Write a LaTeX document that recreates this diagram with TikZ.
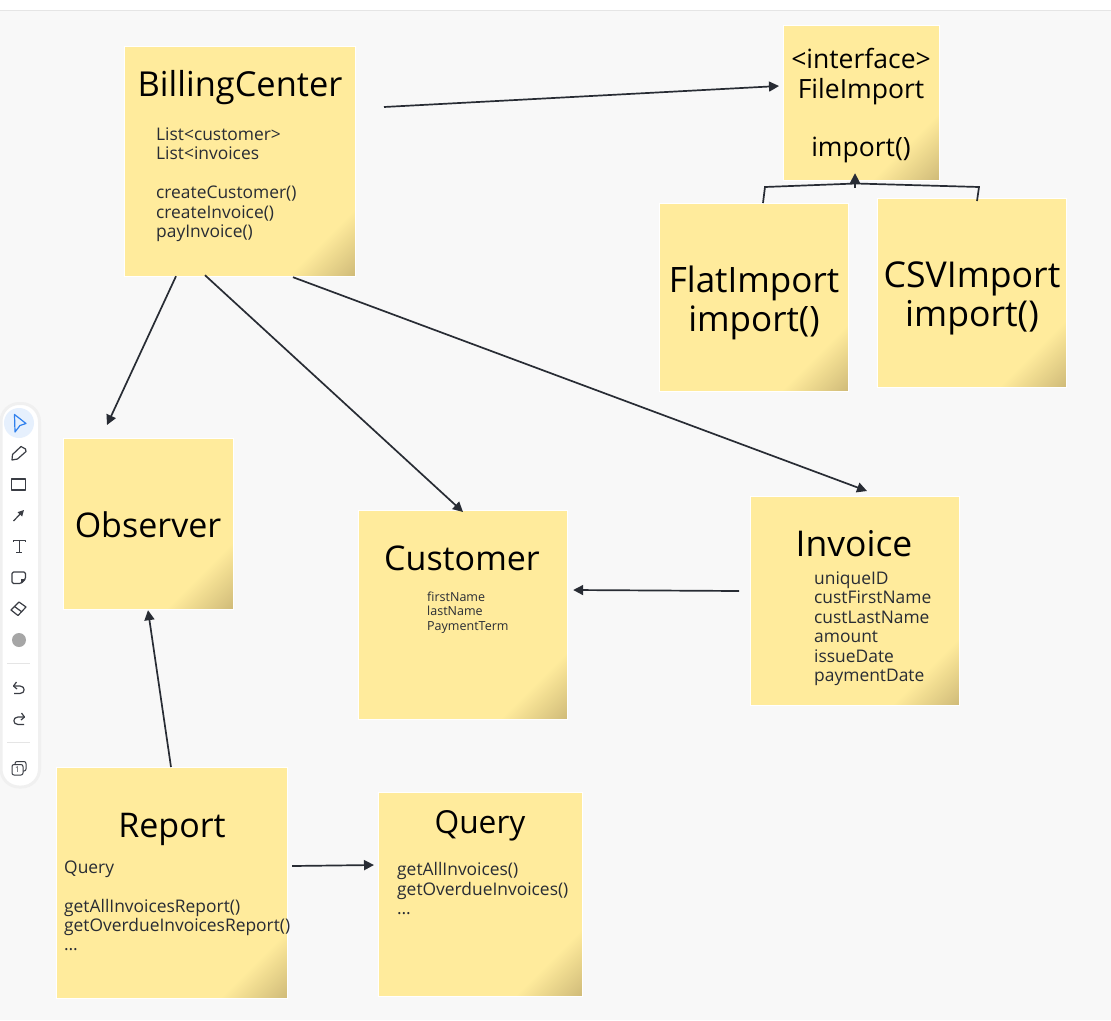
\documentclass[tikz,border=0pt]{standalone}
\usepackage{fontspec}
\setmainfont{Open Sans}
\usetikzlibrary{arrows.meta}
\definecolor{paper}{HTML}{F8F8F8}
\definecolor{note}{HTML}{FFEB9C}
\definecolor{notedark}{HTML}{CFBA78}
\definecolor{ink}{HTML}{282C34}
\definecolor{toolink}{HTML}{3A3D44}
\definecolor{toolblue}{HTML}{2F80ED}
\tikzset{
  x=1pt,y=-1pt,
  sticky/.style={draw=white,line width=1.2pt,fill=note,inner sep=0pt,anchor=north west,
    path picture={
      \foreach \i [evaluate=\i as \leg using 68*(1-\i/34), evaluate=\i as \mixp using 100*\i/34] in {0,...,33}{
        \fill[notedark!\mixp!note]
          ([xshift=-\leg pt]path picture bounding box.south east) --
          (path picture bounding box.south east) --
          ([yshift=\leg pt]path picture bounding box.south east) -- cycle;
      }
    }},
  title/.style={font=\fontsize{#1}{#1}\selectfont,text=black,inner sep=0pt,align=center},
  titleblock/.style={font=\fontsize{26.5}{29.2}\selectfont,text=black,inner sep=0pt,align=center,anchor=north},
  bigblock/.style={font=\fontsize{#1}{39}\selectfont,text=black,inner sep=0pt,align=center},
  body/.style={font=\fontsize{17.4}{19.4}\selectfont,text=ink,inner sep=0pt,align=left,anchor=north west},
  small/.style={font=\fontsize{12.5}{14.7}\selectfont,text=ink,inner sep=0pt,align=left,anchor=north west},
  conn/.style={draw=ink,line width=1.7pt},
  arr/.style={conn,-{Triangle[length=10pt,width=10pt]}},
  tool/.style={draw=toolink,line width=1.2pt,line join=round},
}
\begin{document}
\begin{tikzpicture}
\useasboundingbox (0,0) rectangle (1111,1020);
\fill[paper] (0,0) rectangle (1111,1020);
\fill[white] (0,0) rectangle (1111,10);
\draw[black!10,line width=1pt] (0,10.5) -- (1111,10.5);

% notes
\node[sticky,minimum width=231pt,minimum height=230pt] (bc) at (124,46) {};
\node[sticky,minimum width=156pt,minimum height=155pt] (fi) at (783,25) {};
\node[sticky,minimum width=189pt,minimum height=188pt] (flat) at (659,203) {};
\node[sticky,minimum width=189pt,minimum height=189pt] (csv) at (877,198) {};
\node[sticky,minimum width=170pt,minimum height=171pt] (obs) at (63,438) {};
\node[sticky,minimum width=209pt,minimum height=209pt] (cust) at (358,510) {};
\node[sticky,minimum width=209pt,minimum height=209pt] (inv) at (750,496) {};
\node[sticky,minimum width=231pt,minimum height=231pt] (rep) at (56,767) {};
\node[sticky,minimum width=204pt,minimum height=204pt] (qry) at (378,792) {};

% texts
\node[title=34.4] (bct) at (240,88) {BillingCenter};
\node[body] (bcb) at (156,127.5) {List<customer>\\List<invoices\\[19.4pt]createCustomer()\\createInvoice()\\payInvoice()};
\node[titleblock] (fit) at (861,48.5) {<interface>\\FileImport\\[29.2pt]import()};
\node[bigblock=35] (flatt) at (754,302.5) {FlatImport\\import()};
\node[bigblock=35.6] (csvt) at (972,298) {CSVImport\\import()};
\node[title=34] (obst) at (148,524.5) {Observer};
\node[title=34] (custt) at (462,558.5) {Customer};
\node[small] (custb) at (427,591.5) {firstName\\lastName\\PaymentTerm};
\node[title=35.5] (invt) at (854,544) {Invoice};
\node[body] (invb) at (814,571.5) {uniqueID\\custFirstName\\custLastName\\amount\\issueDate\\paymentDate};
\node[title=34] (rept) at (172,829) {Report};
\node[body] (repb) at (64,860.5) {Query\\[19.4pt]getAllInvoicesReport()\\getOverdueInvoicesReport()\\…};
\node[title=31.7] (qryt) at (480,825.5) {Query};
\node[body] (qryb) at (397,862.5) {getAllInvoices()\\getOverdueInvoices()\\…};

% connectors
\draw[arr] ([shift={(260,61)}]bc.north west) -- ([shift={(-4,61)}]fi.north west);
\draw[arr] ([shift={(52,-1)}]bc.south west) -- ([shift={(44,-13)}]obs.north west);
\draw[arr] ([shift={(81,-2)}]bc.south west) -- ([shift={(105,2)}]cust.north west);
\draw[arr] ([shift={(169,0)}]bc.south west) -- ([shift={(117,-5)}]inv.north west);
\draw[arr] ([shift={(-11,95)}]inv.north west) -- ([shift={(5,80)}]cust.north east);
\draw[arr] ([shift={(115,0)}]rep.north west) -- ([shift={(85,0)}]obs.south west);
\draw[arr] ([shift={(4,99)}]rep.north east) -- ([shift={(-4,73)}]qry.north west);
\draw[conn,line join=miter] ([shift={(104,0)}]flat.north west) -- (765,187) -- (856,183.5) -- (979,187) -- ([shift={(100,3)}]csv.north west);
\draw[arr] (855,187.5) -- ([shift={(72,-8)}]fi.south west);

% toolbar
\draw[black!6,line width=3pt,rounded corners=18pt,fill=white] (1,403.5) rectangle (39.5,787);
\fill[toolblue!12] (19,423) circle (15);
\draw[draw=toolblue,line width=1.2pt,line join=round] (14.5,414.5) -- (26,423.5) -- (20,425.5) -- (15,432) -- cycle;
% pencil
\draw[tool] (12,460) -- (12.5,454.5) -- (21,446.5) -- (25.5,449) -- (26,451.5) -- (17.5,459) -- cycle;
% rectangle
\draw[tool] (11.5,479) rectangle (25.5,490);
\draw[toolink,line width=1.2pt] (11.5,489.5) -- (25.5,489.5);
% arrow
\draw[tool,-{Triangle[length=6pt,width=6pt]}] (13.5,521) -- (24,510);
% text T
\draw[tool,line width=1pt] (13,541.5) -- (13,540) -- (25,540) -- (25,541.5);
\draw[tool,line width=1pt] (19,540) -- (19,552) (16,552) -- (22,552);
% note
\draw[tool,rounded corners=1.5pt] (12,572) -- (25.5,572) -- (25.5,579) -- (21,583.5) -- (12,583.5) -- cycle;
\fill[toolink] (25.5,579) -- (21,583.5) -- (21,579) -- cycle;
% eraser
\draw[tool] (11,610) -- (19,602) -- (26,607) -- (18,615.5) -- cycle;
\draw[tool] (14.5,606.5) -- (22,612);
% colour dot
\fill[black!35] (19,640) circle (7);
% separators
\draw[black!10,line width=1pt] (7,663.5) -- (30,663.5);
\draw[black!10,line width=1pt] (7,742.5) -- (30,742.5);
% undo
\draw[tool] (16.5,682) -- (13.5,686) -- (17,689);
\draw[tool] (13.5,686) -- (20,686) .. controls (25.5,686) and (25.5,693.5) .. (20,693.5) -- (14,693.5);
% redo
\draw[tool] (21.5,713) -- (24.5,717) -- (21,720);
\draw[tool] (24.5,717) -- (18,717) .. controls (12.5,717) and (12.5,724.5) .. (18,724.5) -- (24,724.5);
% layers
\draw[tool,rounded corners=2pt,line width=1pt] (15,764) -- (15,761.5) -- (26,761.5) -- (26,771) -- (23,771);
\draw[tool,rounded corners=2pt,line width=1pt,fill=white] (12,764.5) rectangle (23,775);
\node[inner sep=0pt,font=\fontsize{8}{8}\selectfont,text=toolink] (layernum) at (17.5,769.8) {1};
\end{tikzpicture}
\end{document}
